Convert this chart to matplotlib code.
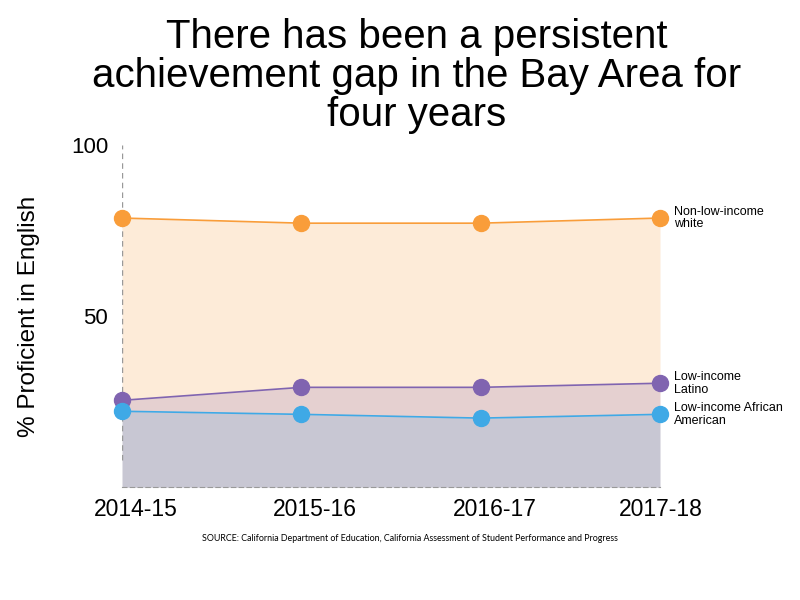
import matplotlib
matplotlib.use("Agg")
import matplotlib.pyplot as plt
from matplotlib.transforms import ScaledTranslation

years = ["2014-15", "2015-16", "2016-17", "2017-18"]
white = [78.7, 77.2, 77.2, 78.7]
latino = [25.4, 29.2, 29.2, 30.4]
african_american = [22.2, 21.3, 20.2, 21.3]
series_labels = ["Non-low-income\nwhite", "Low-income\nLatino", "Low-income African\nAmerican"]

plt.rcParams["font.family"] = ["Liberation Sans", "DejaVu Sans"]

fig = plt.figure(figsize=(8, 6), dpi=100)
ax = fig.add_axes([0.1525, 0.188, 0.6725, 0.57])
x = list(range(len(years)))

# filled bands
ax.fill_between(x, latino, white, color="#fdebd8", lw=0)
ax.fill_between(x, african_american, latino, color="#e5d0d0", lw=0)
ax.fill_between(x, 0, african_american, color="#c8c7d3", lw=0)

colors = ["#f99d3a", "#8064b0", "#3fa9e6"]
for vals, c, lab in zip([white, latino, african_american], colors, series_labels):
    ax.plot(x, vals, color=c, lw=1.2, marker="o", markersize=11.5, clip_on=False, zorder=3)
    ax.text(x[-1] + 0.08, vals[-1], lab, fontsize=9, va="center", ha="left",
            linespacing=1.1)

ax.set_xlim(0, 3)
ax.set_ylim(0, 100)
ax.set_yticks([50, 100])
ax.set_xticks(x)
ax.set_xticklabels(years)
ax.tick_params(length=0, labelsize=16.5, pad=8)
ax.tick_params(axis="y", labelsize=16, pad=10)
# x labels sit a little right of the points
for i, t in enumerate(ax.get_xticklabels()):
    dx = 14 / 100 if i < 3 else 1 / 100
    t.set_transform(t.get_transform() + ScaledTranslation(dx, 0, fig.dpi_scale_trans))
for s in ["top", "right", "left"]:
    ax.spines[s].set_visible(False)
ax.spines["bottom"].set_linestyle((0, (4, 3)))
ax.spines["bottom"].set_color("#999999")
ax.axvline(0, ymin=0.08, ymax=1, color="#999999", lw=1, ls=(0, (4, 3)), zorder=1)

ax.set_ylabel("% Proficient in English", fontsize=17.5, labelpad=22)

fig.text(0.521, 0.97, "There has been a persistent\nachievement gap in the Bay Area for\nfour years",
         ha="center", va="top", fontsize=29, linespacing=1.03)
fig.text(0.513, 0.103, "SOURCE: California Department of Education, California Assessment of Student Performance and Progress",
         ha="center", va="center", fontsize=6.4, family=["Lato", "DejaVu Sans"])

fig.savefig("out.png", dpi=100)
